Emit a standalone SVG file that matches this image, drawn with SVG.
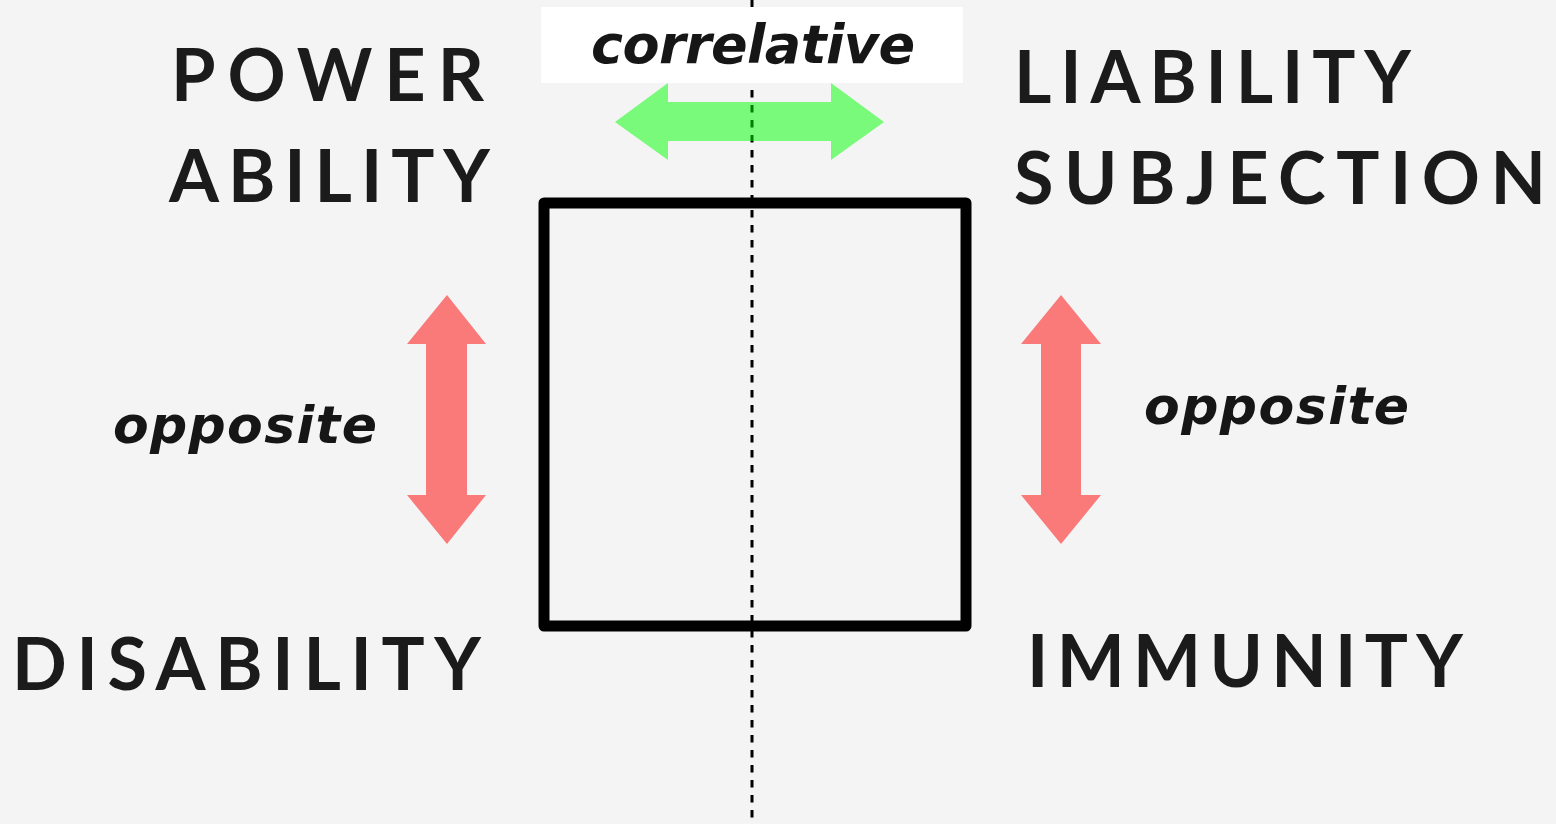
<svg xmlns="http://www.w3.org/2000/svg" width="1556" height="824" viewBox="0 0 1556 824">
<style>
.cap{font-family:Lato,"Noto Sans","Liberation Sans",sans-serif;font-weight:700;font-size:72px;fill:#1b1b1b}
.it{font-family:"DejaVu Sans","Liberation Sans",sans-serif;font-weight:700;font-style:italic;fill:#161616;font-variant-ligatures:none}
.op{fill:#ff0000;fill-opacity:0.5}
.co{fill:#00ff00;fill-opacity:0.5}
</style>
<rect width="1556" height="824" fill="#f4f4f4"/>
<g id="connectors">
<line id="axis" x1="752" y1="0" x2="752" y2="824" stroke="#000" stroke-width="3" stroke-dasharray="7.5 7.5"/>
<g id="correlative">
<rect x="541" y="7" width="422" height="76" fill="#ffffff"/>
<text class="it" x="591" y="63" font-size="54" textLength="324" lengthAdjust="spacing">correlative</text>
<polygon class="co" points="615,122 668,83 668,102 831,102 831,83 884,122 831,160 831,141 668,141 668,160"/>
</g>
<g id="opposite-left">
<polygon class="op" points="447,295 486,344 467,344 467,495 486,495 447,544 407,495 426,495 426,344 407,344"/>
<text class="it" x="113" y="443" font-size="52" textLength="264" lengthAdjust="spacing">opposite</text>
</g>
<g id="opposite-right">
<polygon class="op" points="1061,295 1101,344 1081,344 1081,495 1101,495 1061,544 1021,495 1041,495 1041,344 1021,344"/>
<text class="it" x="1144" y="424" font-size="52" textLength="265" lengthAdjust="spacing">opposite</text>
</g>
</g>
<g id="box">
<rect x="544" y="203" width="422" height="423" fill="none" stroke="#000" stroke-width="11" stroke-linejoin="round"/>
</g>
<g id="power"><text class="cap" x="171" y="101" textLength="313" lengthAdjust="spacing">POWER</text>
<text class="cap" x="169" y="202" textLength="321" lengthAdjust="spacing">ABILITY</text></g>
<g id="liability"><text class="cap" x="1014" y="103" textLength="397" lengthAdjust="spacing">LIABILITY</text>
<text class="cap" x="1014" y="204" textLength="532" lengthAdjust="spacing">SUBJECTION</text></g>
<g id="disability"><text class="cap" x="12" y="690" textLength="469" lengthAdjust="spacing">DISABILITY</text></g>
<g id="immunity"><text class="cap" x="1027" y="687" textLength="436" lengthAdjust="spacing">IMMUNITY</text></g>
</svg>
